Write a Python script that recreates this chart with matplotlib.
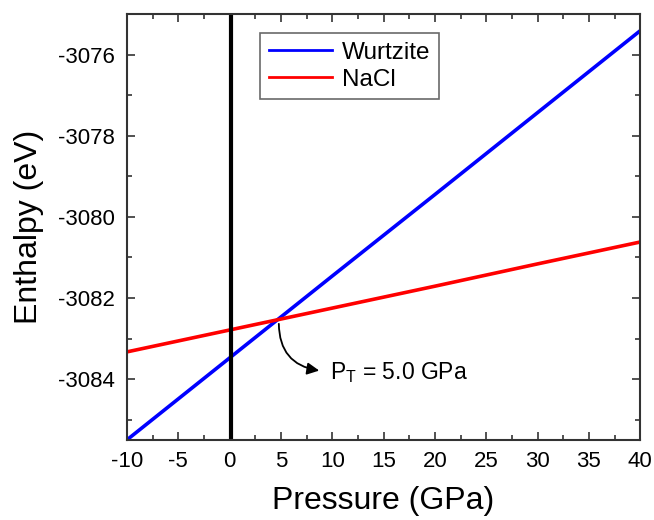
import matplotlib
matplotlib.use("Agg")
import matplotlib.pyplot as plt
from matplotlib.ticker import MultipleLocator

# pressure (GPa) and enthalpy (eV)
pressure = [-10, 0, 5, 10, 20, 30, 40]
wurtzite = [-3085.50, -3083.48, -3082.47, -3081.46, -3079.45, -3077.43, -3075.41]
nacl = [-3083.33, -3082.79, -3082.52, -3082.25, -3081.71, -3081.16, -3080.62]

plt.rcParams["font.family"] = ["Liberation Sans", "DejaVu Sans"]
plt.rcParams["axes.unicode_minus"] = False

fig = plt.figure(figsize=(6.54, 5.2), dpi=100)
ax = fig.add_axes([0.194, 0.154, 0.785, 0.819])

ax.plot(pressure, wurtzite, color="#0000ff", lw=2.6, label="Wurtzite")
ax.plot(pressure, nacl, color="#ff0000", lw=2.6, label="NaCl")
ax.axvline(0.15, color="black", lw=3)

ax.set_xlim(-10, 40)
ax.set_ylim(-3085.5, -3075)
ax.xaxis.set_major_locator(MultipleLocator(5))
ax.xaxis.set_minor_locator(MultipleLocator(2.5))
ax.yaxis.set_major_locator(MultipleLocator(2))
ax.yaxis.set_minor_locator(MultipleLocator(1))
ax.tick_params(which="both", direction="in", top=True, right=True,
               labelsize=16, color="#333333")
ax.tick_params(which="major", length=6, width=1.2, pad=8)
ax.tick_params(which="minor", length=3.5, width=1.2)
ax.tick_params(axis="y", which="major", pad=9)
for s in ax.spines.values():
    s.set_linewidth(1.5)
    s.set_color("#333333")

ax.set_xlabel("Pressure (GPa)", fontsize=23, labelpad=10)
ax.set_ylabel("Enthalpy (eV)", fontsize=23, labelpad=10)

ax.annotate("", xy=(9.0, -3083.8), xytext=(4.8, -3082.57),
            arrowprops=dict(arrowstyle="-|>", color="black", lw=1.3,
                            connectionstyle="arc3,rad=0.45", mutation_scale=18))
ax.text(9.8, -3083.85, r"P$_\mathregular{T}$ = 5.0 GPa", fontsize=16.5, va="center")

leg = ax.legend(loc="upper left", bbox_to_anchor=(0.26, 0.955), fontsize=17.5,
                frameon=True, fancybox=False, edgecolor="#444444",
                handlelength=2.6, borderpad=0.35, labelspacing=0.2,
                handletextpad=0.4, borderaxespad=0)
leg.get_frame().set_linewidth(1.2)
for line in leg.get_lines():
    line.set_linewidth(2)

fig.savefig("out.png", dpi=100)
